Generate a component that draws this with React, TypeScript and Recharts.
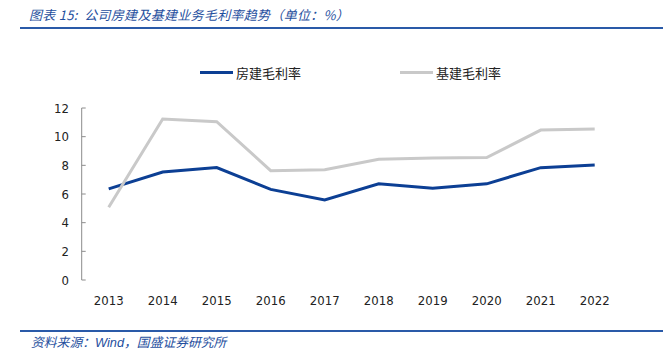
import { Legend, Line, LineChart, XAxis, YAxis } from "recharts";

const years = ["2013", "2014", "2015", "2016", "2017", "2018", "2019", "2020", "2021", "2022"];
const housingMargin = [6.36, 7.53, 7.84, 6.32, 5.59, 6.71, 6.41, 6.71, 7.84, 8.02];
const infraMargin = [5.08, 11.23, 11.04, 7.63, 7.7, 8.42, 8.51, 8.54, 10.46, 10.53];
const yTicks = [0, 2, 4, 6, 8, 10, 12];
const seriesNames = ["房建毛利率", "基建毛利率"];

const data = years.map((year, i) => ({
  i,
  year,
  housing: housingMargin[i],
  infra: infraMargin[i],
}));

const labelTicks = years.map((_, i) => i);
const boundaryTicks = [...years.map((_, i) => i - 0.5), years.length - 0.5];

const BLUE = "#0c3f94";
const GRAY = "#c9c9c9";
const AXIS = "#8c8c8c";
const TICK_FONT = "Tahoma, 'DejaVu Sans Condensed', 'DejaVu Sans', sans-serif";
const CJK = "'Noto Sans CJK SC', sans-serif";

function LegendContent({ payload }: any) {
  const items = [...(payload || [])].sort(
    (a: any, b: any) => seriesNames.indexOf(a.value) - seriesNames.indexOf(b.value)
  );
  return (
    <div style={{ display: "flex" }}>
      {items.map((p: any) => (
        <div key={p.value} style={{ width: 200, display: "flex", alignItems: "center" }}>
          <span style={{ display: "inline-block", width: 33, height: 3, background: p.color, marginRight: 3 }} />
          <span style={{ fontFamily: CJK, fontSize: 13, color: "#222" }}>{p.value}</span>
        </div>
      ))}
    </div>
  );
}

export default function App() {
  return (
    <div style={{ position: "absolute", left: 0, top: 0, width: 663, height: 361, background: "#fff" }}>
      <div
        style={{
          position: "absolute",
          left: 29,
          top: 5,
          fontFamily: CJK,
          fontStyle: "italic",
          fontSize: 13,
          letterSpacing: 0.3,
          color: "#1f4f9e",
          whiteSpace: "pre",
        }}
      >
        图表 15:  公司房建及基建业务毛利率趋势（单位：%）
      </div>
      <div style={{ position: "absolute", left: 20, top: 27, width: 643, height: 2, background: "#2a5aa8" }} />

      <LineChart width={663} height={361} data={data} margin={{ top: 108, right: 41.3, bottom: 51, left: 31.7 }}>
        <XAxis
          xAxisId="grid"
          type="number"
          dataKey="i"
          domain={[-0.5, years.length - 0.5]}
          ticks={boundaryTicks}
          tick={false}
          height={0}
          tickSize={-4}
          stroke={AXIS}
          interval={0}
        />
        <XAxis
          xAxisId="lbl"
          type="number"
          dataKey="i"
          domain={[-0.5, years.length - 0.5]}
          ticks={labelTicks}
          tickFormatter={(v) => years[v]}
          axisLine={false}
          tickLine={false}
          height={30}
          tickMargin={10}
          interval={0}
          tick={{ fontFamily: TICK_FONT, fontSize: 13, fill: "#222" }}
        />
        <YAxis
          width={50}
          domain={[0, 12]}
          ticks={yTicks}
          interval={0}
          tickSize={-4}
          tickMargin={16.7}
          stroke={AXIS}
          tick={{ fontFamily: TICK_FONT, fontSize: 13, fill: "#222" }}
        />
        <Legend
          layout="horizontal"
          align="center"
          verticalAlign="middle"
          itemSorter={null as any}
          wrapperStyle={{ position: "absolute", top: 63, left: 200, width: 400, height: 18 }}
          content={<LegendContent />}
        />
        <Line
          xAxisId="lbl"
          type="linear"
          dataKey="housing"
          name={seriesNames[0]}
          stroke={BLUE}
          strokeWidth={3}
          dot={false}
          isAnimationActive={false}
        />
        <Line
          xAxisId="lbl"
          type="linear"
          dataKey="infra"
          name={seriesNames[1]}
          stroke={GRAY}
          strokeWidth={3}
          dot={false}
          isAnimationActive={false}
        />
      </LineChart>

      <div style={{ position: "absolute", left: 20, top: 330, width: 643, height: 2, background: "#2a5aa8" }} />
      <div
        style={{
          position: "absolute",
          left: 31,
          top: 332,
          fontFamily: CJK,
          fontStyle: "italic",
          fontSize: 12.8,
          color: "#1f4f9e",
          whiteSpace: "nowrap",
        }}
      >
        资料来源：<span style={{ fontFamily: "'Liberation Sans', sans-serif" }}>Wind</span>，国盛证券研究所
      </div>
    </div>
  );
}
